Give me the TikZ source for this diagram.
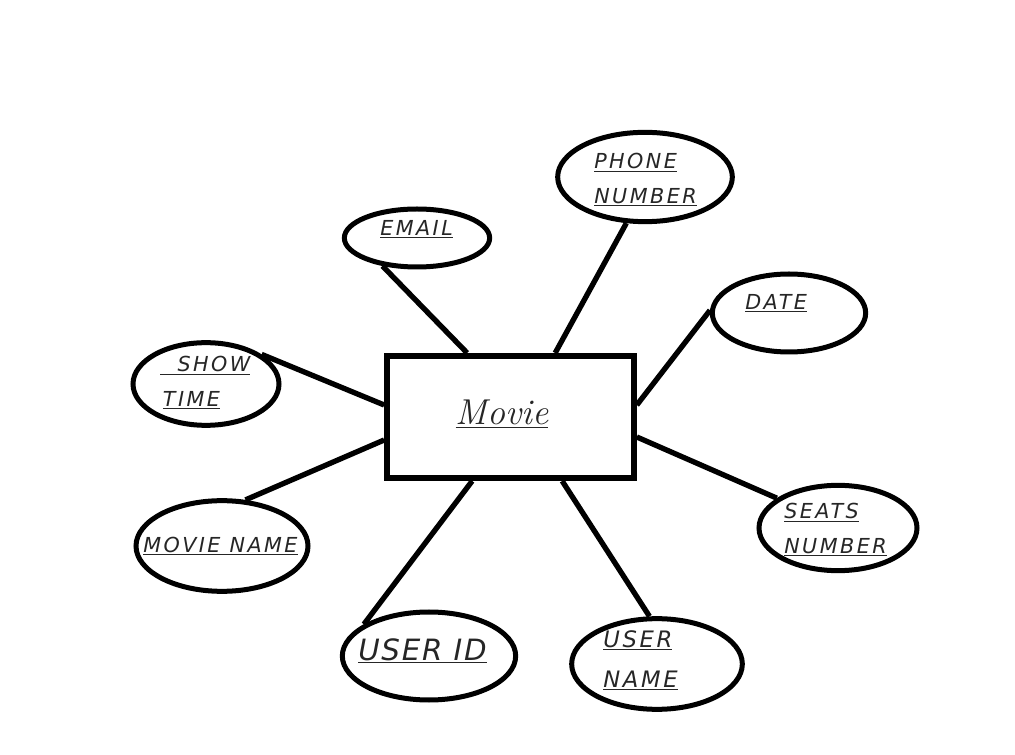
\documentclass[tikz,border=0pt]{standalone}
\usepackage{fontspec}
\newfontfamily\handfont[LetterSpace=12]{DejaVu Sans}
\newfontfamily\handfontb[LetterSpace=6]{DejaVu Sans}
\usetikzlibrary{shapes.geometric,calc}
\begin{document}
\begin{tikzpicture}[x=0.75pt,y=-0.75pt,
  attr/.style={ellipse,draw,line width=3.75pt,inner sep=0pt},
  conn/.style={line width=4pt},
  lbl/.style={font=\handfont\itshape\fontsize{15.5}{26}\selectfont,text=black!85,align=left,anchor=west,inner sep=0pt},
  ent/.style={draw,line width=4.5pt,inner sep=0pt,minimum width=185pt,minimum height=91.5pt}]
\useasboundingbox (0,0) rectangle (1015,755);
% entity
\node[ent] (movie) at (510.5,417) {};
\node[font=\itshape\fontsize{27}{30}\selectfont,text=black!85,inner sep=0pt] (movielbl) at (502,414) {\underline{Movie}};
% attributes
\node[attr,minimum width=131pt,minimum height=67pt] (phone) at (645,177) {};
\node[attr,minimum width=109pt,minimum height=43.5pt] (email) at (417,238) {};
\node[attr,minimum width=115pt,minimum height=58.5pt] (date) at (789,313) {};
\node[attr,minimum width=109.5pt,minimum height=62pt] (show) at (206,384) {};
\node[attr,minimum width=129pt,minimum height=68pt] (mname) at (222,546) {};
\node[attr,minimum width=118.5pt,minimum height=64pt] (seats) at (838,528) {};
\node[attr,minimum width=130pt,minimum height=66pt] (uid) at (429,656) {};
\node[attr,minimum width=128pt,minimum height=68pt] (uname) at (657,664) {};
% labels
\node[lbl] (phonelbl) at (594,180) {\underline{PHONE}\\\underline{NUMBER}};
\node[lbl] (emaillbl) at (380,229) {\underline{EMAIL}};
\node[lbl] (datelbl) at (745,303) {\underline{DATE}};
\node[lbl] (showlbl) at (160,383) {\underline{\hspace{13pt}SHOW}\\\hspace{2pt}\underline{TIME}};
\node[lbl] (mnamelbl) at (143,546) {\underline{MOVIE NAME}};
\node[lbl] (seatslbl) at (784,530) {\underline{SEATS}\\\underline{NUMBER}};
\node[lbl,font=\handfontb\itshape\fontsize{22}{26}\selectfont] (uidlbl) at (358,651) {\underline{USER ID}};
\node[lbl,font=\handfont\itshape\fontsize{17}{30}\selectfont] (unamelbl) at (603,660) {\underline{USER}\\\underline{NAME}};
% connectors
\draw[conn] ($(movie.north west)+(83,0)$) -- (email.-141);
\draw[conn] ($(movie.north west)+(171,0)$) -- (phone.-112);
\draw[conn] ($(movie.north east)+(0,52)$) -- (date.178);
\draw[conn] ($(movie.north west)+(0,52)$) -- (show.28);
\draw[conn] ($(movie.north west)+(0,87)$) -- (mname.63);
\draw[conn] ($(movie.north east)+(0,84)$) -- (seats.154);
\draw[conn] ($(movie.south west)+(88,0)$) -- (uid.154);
\draw[conn] ($(movie.south west)+(178,0)$) -- (uname.99);
\end{tikzpicture}
\end{document}
